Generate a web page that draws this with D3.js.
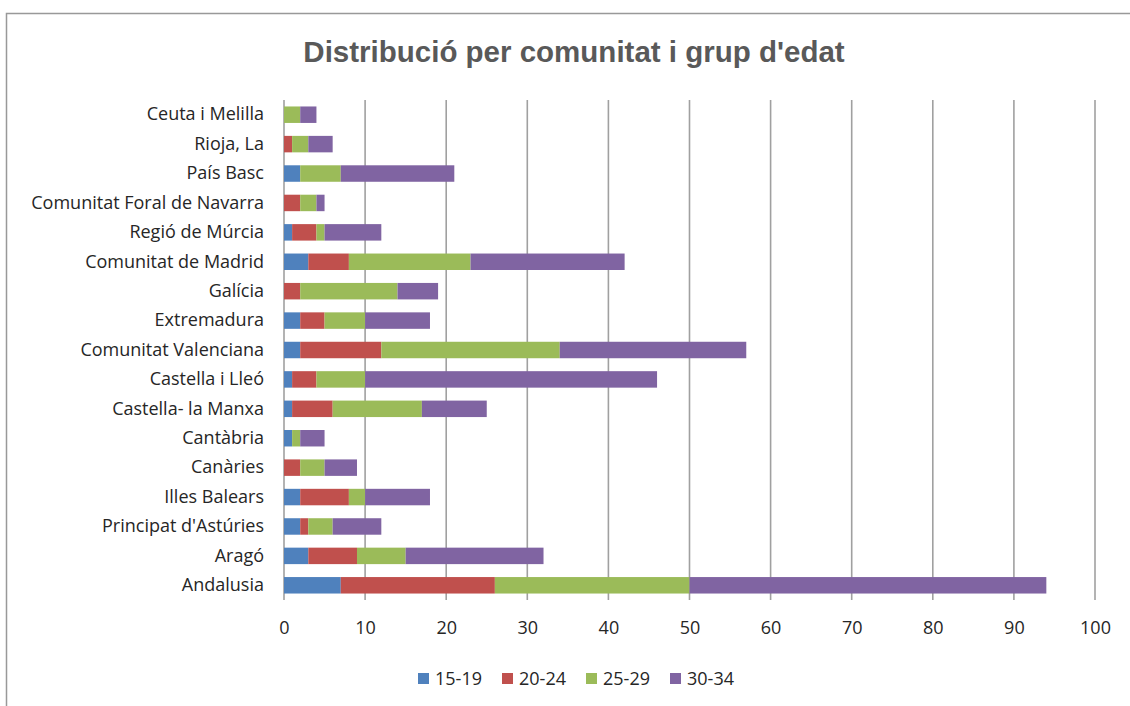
<!DOCTYPE html>
<html>
<head>
<meta charset="utf-8">
<script src="https://cdn.jsdelivr.net/npm/d3@7"></script>
<style>
  body { margin: 0; background: #fff; }
  svg { display: block; }
</style>
</head>
<body>
<div id="chart"></div>
<script>
// categories, top to bottom
const communities = [
  "Ceuta i Melilla", "Rioja, La", "País Basc", "Comunitat Foral de Navarra",
  "Regió de Múrcia", "Comunitat de Madrid", "Galícia", "Extremadura",
  "Comunitat Valenciana", "Castella i Lleó", "Castella- la Manxa", "Cantàbria",
  "Canàries", "Illes Balears", "Principat d'Astúries", "Aragó", "Andalusia"
];
const groups = ["15-19", "20-24", "25-29", "30-34"];
const colors = ["#4f81bd", "#c0504d", "#9bbb59", "#8064a2"];

const age15_19 = [0, 0, 2, 0, 1, 3, 0, 2, 2, 1, 1, 1, 0, 2, 2, 3, 7];
const age20_24 = [0, 1, 0, 2, 3, 5, 2, 3, 10, 3, 5, 0, 2, 6, 1, 6, 19];
const age25_29 = [2, 2, 5, 2, 1, 15, 12, 5, 22, 6, 11, 1, 3, 2, 3, 6, 24];
const age30_34 = [2, 3, 14, 1, 7, 19, 5, 8, 23, 36, 8, 3, 4, 8, 6, 17, 44];

const xTicks = [0, 10, 20, 30, 40, 50, 60, 70, 80, 90, 100];

const width = 1130, height = 706;
const margin = { top: 100, left: 284, right: 35, bottom: 106 };
const labelFont = "'Open Sans', sans-serif";

const rows = communities.map((c, i) => ({
  name: c,
  "15-19": age15_19[i],
  "20-24": age20_24[i],
  "25-29": age25_29[i],
  "30-34": age30_34[i]
}));

const stacked = d3.stack().keys(groups)(rows);

const svg = d3.select("#chart").append("svg")
  .attr("width", width)
  .attr("height", height);

// chart frame (only top and left edges show in the picture)
svg.append("rect")
  .attr("x", 6.5).attr("y", 13.5)
  .attr("width", width + 20).attr("height", height + 20)
  .attr("fill", "none")
  .attr("stroke", "#999")
  .attr("stroke-width", 1.5);

const x = d3.scaleLinear()
  .domain([0, 100])
  .range([margin.left, width - margin.right]);

const y = d3.scaleBand()
  .domain(communities)
  .range([margin.top, height - margin.bottom])
  .paddingInner(0.44)
  .paddingOuter(0.22);

// gridlines
svg.append("g")
  .selectAll("line")
  .data(xTicks)
  .join("line")
  .attr("x1", d => x(d)).attr("x2", d => x(d))
  .attr("y1", margin.top).attr("y2", height - margin.bottom)
  .attr("stroke", "#a0a0a0")
  .attr("stroke-width", 1.6);

// bars
svg.append("g")
  .selectAll("g")
  .data(stacked)
  .join("g")
  .attr("fill", (d, i) => colors[i])
  .selectAll("rect")
  .data(d => d.filter(s => s[1] - s[0] > 0))
  .join("rect")
  .attr("x", d => x(d[0]))
  .attr("y", d => y(d.data.name))
  .attr("width", d => x(d[1]) - x(d[0]))
  .attr("height", y.bandwidth());

// x axis labels
const xAxis = svg.append("g")
  .attr("transform", "translate(0," + (height - margin.bottom) + ")")
  .call(d3.axisBottom(x).tickValues(xTicks).tickSize(0).tickPadding(21));
xAxis.select(".domain").remove();
xAxis.selectAll("text")
  .attr("font-family", labelFont)
  .attr("font-size", 18)
  .attr("fill", "#262626");

// y axis labels
const yAxis = svg.append("g")
  .attr("transform", "translate(" + margin.left + ",0)")
  .call(d3.axisLeft(y).tickSize(0).tickPadding(20));
yAxis.select(".domain").remove();
yAxis.selectAll("text")
  .attr("font-family", labelFont)
  .attr("font-size", 18)
  .attr("fill", "#262626");

// title
svg.append("text")
  .attr("x", 574)
  .attr("y", 62)
  .attr("text-anchor", "middle")
  .attr("font-family", "'Liberation Sans', Arial, sans-serif")
  .attr("font-weight", "bold")
  .attr("font-size", 29.5)
  .attr("fill", "#595959")
  .text("Distribució per comunitat i grup d'edat");

// legend
const legend = svg.append("g")
  .selectAll("g")
  .data(groups)
  .join("g")
  .attr("transform", (d, i) => "translate(" + (418 + i * 84) + ",673)");

legend.append("rect")
  .attr("width", 11).attr("height", 11)
  .attr("fill", (d, i) => colors[i]);

legend.append("text")
  .attr("x", 17).attr("y", 12)
  .attr("font-family", labelFont)
  .attr("font-size", 18)
  .attr("fill", "#262626")
  .text(d => d);
</script>
</body>
</html>
